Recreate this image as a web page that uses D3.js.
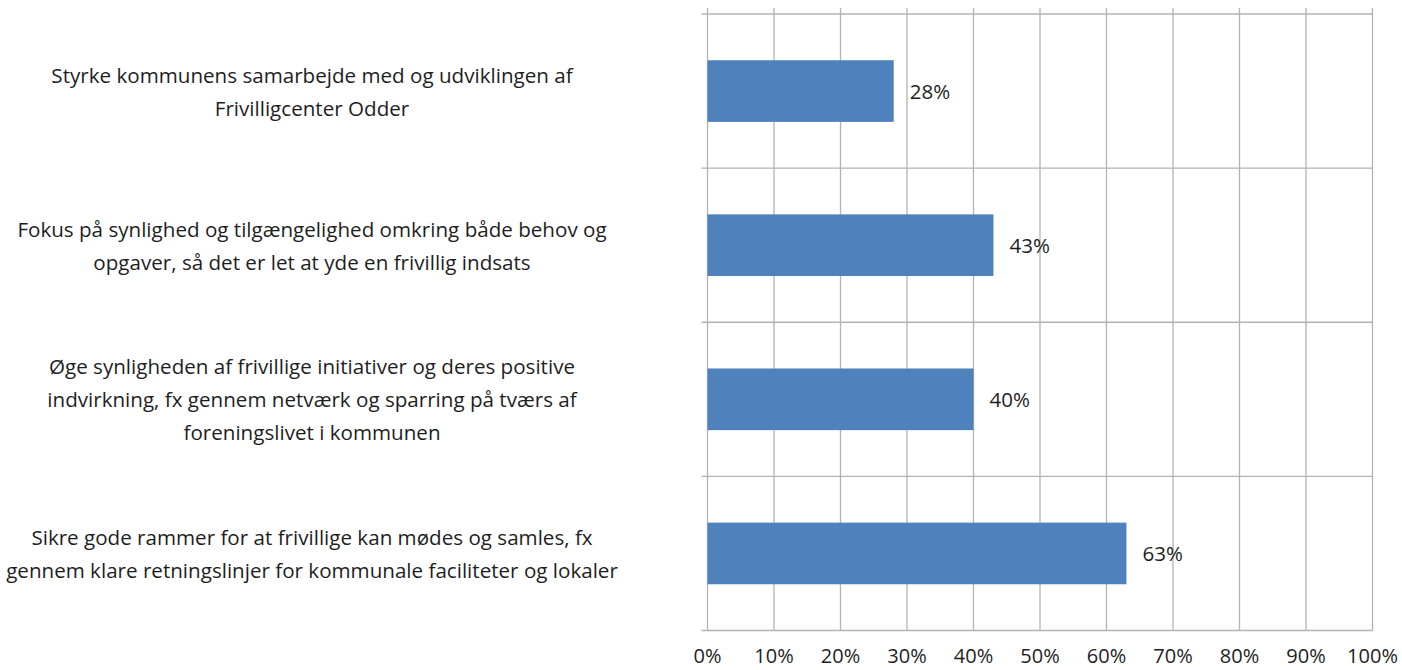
<!DOCTYPE html>
<html>
<head>
<meta charset="utf-8">
<script src="https://cdn.jsdelivr.net/npm/d3@7"></script>
<style>
  html, body { margin: 0; padding: 0; background: #fff; }
  svg { display: block; font-family: "Open Sans", "Noto Sans", sans-serif; }
</style>
</head>
<body>
<div id="chart"></div>
<script>
// category labels, already wrapped as in the source chart
const categories = [
  ["Styrke kommunens samarbejde med og udviklingen af", "Frivilligcenter Odder"],
  ["Fokus på synlighed og tilgængelighed omkring både behov og", "opgaver, så det er let at yde en frivillig indsats"],
  ["Øge synligheden af frivillige initiativer og deres positive", "indvirkning, fx gennem netværk og sparring på tværs af", "foreningslivet i kommunen"],
  ["Sikre gode rammer for at frivillige kan mødes og samles, fx", "gennem klare retningslinjer for kommunale faciliteter og lokaler"]
]
const values = [0.28, 0.43, 0.40, 0.63]
const ticks = [0, 0.1, 0.2, 0.3, 0.4, 0.5, 0.6, 0.7, 0.8, 0.9, 1]

const width = 1402
const height = 670
const gridColor = "#b3b3b3"
const textColor = "#1e1e1e"

const keys = categories.map((c, i) => i)

const x = d3.scaleLinear().domain([0, 1]).range([707.5, 1372.5])
const y = d3.scaleBand().domain(keys).range([14, 630.5]).paddingInner(0.6).paddingOuter(0.3)

const svg = d3.select("#chart").append("svg")
  .attr("width", width)
  .attr("height", height)

// vertical gridlines
svg.append("g")
  .selectAll("line")
  .data(ticks)
  .join("line")
  .attr("x1", d => x(d))
  .attr("x2", d => x(d))
  .attr("y1", 8)
  .attr("y2", y.range()[1])
  .attr("stroke", gridColor)
  .attr("stroke-width", 1.3)

// horizontal category boundaries (with small ticks to the left)
const bounds = d3.range(keys.length + 1).map(i => y.range()[0] + i * y.step())
svg.append("g")
  .selectAll("line")
  .data(bounds)
  .join("line")
  .attr("x1", x(0) - 6)
  .attr("x2", x(1))
  .attr("y1", d => d)
  .attr("y2", d => d)
  .attr("stroke", gridColor)
  .attr("stroke-width", 1.3)

// bars
svg.append("g")
  .selectAll("rect")
  .data(values)
  .join("rect")
  .attr("x", x(0))
  .attr("y", (d, i) => y(i))
  .attr("width", d => x(d) - x(0))
  .attr("height", y.bandwidth())
  .attr("fill", "#4f81bd")

// value labels
svg.append("g")
  .selectAll("text")
  .data(values)
  .join("text")
  .attr("x", d => x(d) + 16)
  .attr("y", (d, i) => y(i) + y.bandwidth() / 2 + 8)
  .attr("font-size", 20.5)
  .attr("fill", textColor)
  .text(d => Math.round(d * 100) + "%")

// x tick labels
svg.append("g")
  .selectAll("text")
  .data(ticks)
  .join("text")
  .attr("x", d => x(d))
  .attr("y", 663)
  .attr("text-anchor", "middle")
  .attr("font-size", 20)
  .attr("fill", textColor)
  .text(d => Math.round(d * 100) + "%")

// category labels
const lineH = 33
const labels = svg.append("g")
  .selectAll("text")
  .data(categories)
  .join("text")
  .attr("text-anchor", "middle")
  .attr("font-size", 20.6)
  .attr("fill", textColor)

labels.each(function(lines, i) {
  const mid = y(i) + y.bandwidth() / 2
  d3.select(this).selectAll("tspan")
    .data(lines)
    .join("tspan")
    .attr("x", 312)
    .attr("y", (l, k) => mid + 8 + (k - (lines.length - 1) / 2) * lineH)
    .text(l => l)
})
</script>
</body>
</html>
